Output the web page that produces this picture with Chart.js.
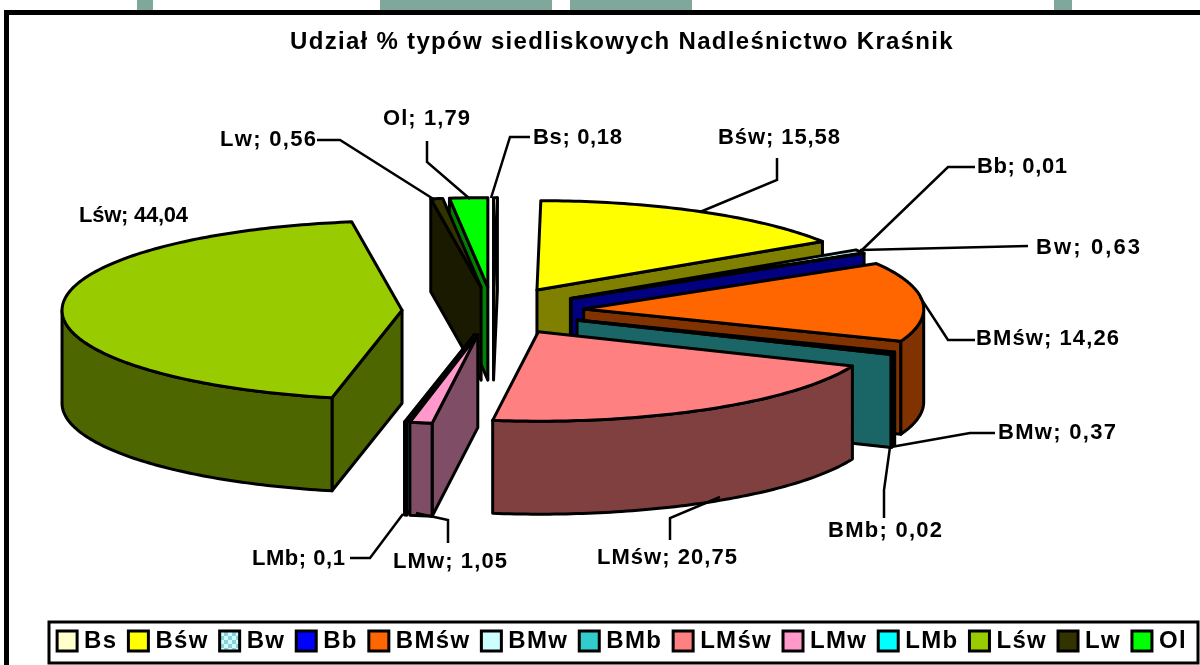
<!DOCTYPE html>
<html><head><meta charset="utf-8">
<style>html,body{margin:0;padding:0;background:#fff;overflow:hidden}canvas{display:block}</style>
<script src="https://cdn.jsdelivr.net/npm/chart.js@4"></script>
</head><body><canvas id="c" width="1200" height="665"></canvas>
<script>
const categories = ['Bs','Bśw','Bw','Bb','BMśw','BMw','BMb','LMśw','LMw','LMb','Lśw','Lw','Ol'];
const values = [0.18,15.58,0.63,0.01,14.26,0.37,0.02,20.75,1.05,0.1,44.04,0.56,1.79];
const topColors = ['#FFFFCC','#FFFF00','#CCFFFF','#0000FF','#FF6600','#CCFFFF','#33CCCC','#FF8080','#FF99CC','#00FFFF','#99CC00','#333300','#00FF00'];
const sideColors = ['#808066','#808000','#668080','#000080','#803300','#668080','#1A6666','#804040','#804D66','#008080','#4D6600','#1A1A00','#008000'];
const titleText = 'Udział % typów siedliskowych Nadleśnictwo Kraśnik';

// label: text left, middle y, text width; then the leader polyline
const callouts = {
  'Bs':[533,138,89,[[530,137],[510,137],[491,198]]],
  'Bśw':[718,138,122,[[777,158],[777,180],[700,212]]],
  'Bw':[1036,248,104,[[1028,246],[860,250]]],
  'Bb':[977,167,90,[[975,167],[948,167],[862,250]]],
  'BMśw':[976,339,143,[[975,340],[948,340],[920,297]]],
  'BMw':[998,433,118,[[995,433],[970,433],[891,447]]],
  'BMb':[828,531,114,[[884,518],[884,490],[890,447]]],
  'LMśw':[597,558,140,[[670,540],[670,518],[720,497]]],
  'LMw':[393,562,114,[[448,543],[448,520],[416,513]]],
  'LMb':[252,559,93,[[350,558],[370,558],[403,514]]],
  'Lśw':[79,216,109,[]],
  'Lw':[220,140,96,[[317,140],[340,140],[435,200]]],
  'Ol':[383,119,87,[[427,141],[427,162],[470,199]]]
};
const pieView = {cx:493, cy:311, radius:340, squash:0.263, explode:91, depth:93};

function checker(){
  const p=document.createElement('canvas');p.width=p.height=8;
  const g=p.getContext('2d');g.fillStyle='#CCFFFF';g.fillRect(0,0,8,8);
  g.fillStyle='#8FD0D8';g.fillRect(0,0,4,4);g.fillRect(4,4,4,4);
  return g.createPattern(p,'repeat');
}
const fills = topColors.slice(); fills[2]=checker();

const pie3d = {
  id:'pie3d',
  beforeUpdate(chart){ chart.ctx.letterSpacing='1.3px'; },
  beforeDraw(chart){
    const c=chart.ctx; c.save();
    c.fillStyle='#fff';c.fillRect(0,0,1200,665);
    c.fillStyle='#7FA79B';
    [[137,153],[380,552],[570,692],[1054,1072]].forEach(r=>c.fillRect(r[0],0,r[1]-r[0],11));
    c.fillStyle='#000';c.fillRect(4,10,1196,5);c.fillRect(4,10,5,655);
    c.restore();
    c.letterSpacing='1.3px';
  },
  beforeDatasetDraw(chart,args){
    const c=chart.ctx, v=pieView, k=v.squash, arcs=chart.getDatasetMeta(args.index).data;
    const items=arcs.map((el,i)=>{
      const mid=(el.startAngle+el.endAngle)/2;
      return {el,i,ox:v.cx+v.explode*Math.cos(mid),oy:v.cy+v.explode*k*Math.sin(mid)};
    }).sort((a,b)=>a.oy-b.oy);
    c.save();c.lineWidth=3;c.lineJoin='round';c.strokeStyle='#000';
    items.forEach(it=>{
      const {el,i,ox,oy}=it, R=el.outerRadius, s=el.startAngle, e=el.endAngle, d=v.depth;
      const pt=a=>[ox+R*Math.cos(a),oy+R*k*Math.sin(a)];
      const poly=(pts,fill)=>{c.beginPath();pts.forEach((p,n)=>n?c.lineTo(p[0],p[1]):c.moveTo(p[0],p[1]));c.closePath();if(fill){c.fillStyle=fill;c.fill();}c.stroke();};
      const side=sideColors[i];
      const face=a=>{const p=pt(a);poly([[ox,oy],p,[p[0],p[1]+d],[ox,oy+d]],side);};
      if(Math.cos(s)<0) face(s);
      if(Math.cos(e)>0) face(e);
      const a0=Math.max(s,0),a1=Math.min(e,Math.PI);
      if(a1>a0){
        const n=Math.max(2,Math.ceil((a1-a0)*60)),up=[],dn=[];
        for(let j=0;j<=n;j++){const p=pt(a0+(a1-a0)*j/n);up.push(p);dn.unshift([p[0],p[1]+d]);}
        poly(up.concat(dn),side);
      }
      // top face through the library's arc element
      c.save();c.translate(ox,oy);c.scale(1,k);c.translate(-el.x,-el.y);el.draw(c);c.restore();
      const n=Math.max(2,Math.ceil((e-s)*60)),top=[[ox,oy]];
      for(let j=0;j<=n;j++)top.push(pt(s+(e-s)*j/n));
      poly(top,null);
    });
    c.restore();
    return false;
  },
  afterDraw(chart){
    const c=chart.ctx; c.save();
    c.letterSpacing='0px';
    c.strokeStyle='#000';c.lineWidth=3;c.strokeRect(49,622,1149,41);
    // legend swatches sit on the positions the legend laid out
    chart.legend.legendHitBoxes.forEach((h,i)=>{
      const y=h.top+h.height/2-10;
      c.fillStyle=fills[i];c.fillRect(h.left,y,20,20);
      c.strokeRect(h.left,y,20,20);
    });
    c.lineWidth=2.5;c.lineJoin='miter';c.fillStyle='#000';
    c.font='bold 22px "Liberation Sans"';c.textBaseline='middle';c.textAlign='left';
    categories.forEach((name,i)=>{
      const [x,y,w,pts]=callouts[name];
      if(pts.length){c.beginPath();pts.forEach((p,n)=>n?c.lineTo(p[0],p[1]):c.moveTo(p[0],p[1]));c.stroke();}
      const t=name+'; '+String(values[i]).replace('.',',');
      c.letterSpacing='0px';
      const ls=(w-c.measureText(t).width)/(t.length-1);
      c.letterSpacing=ls.toFixed(2)+'px';
      c.fillText(t,x,y);
    });
    c.restore();
  }
};

new Chart(document.getElementById('c'),{
  type:'pie',
  data:{labels:categories,datasets:[{data:values,backgroundColor:fills,borderWidth:0,hoverOffset:0,offset:0}]},
  plugins:[pie3d],
  options:{
    responsive:false,animation:false,
    radius:pieView.radius,
    layout:{padding:{left:44,right:0,top:0,bottom:2}},
    plugins:{
      tooltip:{enabled:false},
      title:{display:true,text:titleText,color:'#000',font:{family:'"Liberation Sans"',size:24,weight:'bold'},padding:{top:28,bottom:10}},
      legend:{position:'bottom',onClick:null,
        labels:{color:'#000',boxWidth:15,boxHeight:18,padding:11,font:{family:'"Liberation Sans"',size:24,weight:'bold'},
          generateLabels(ch){return Chart.overrides.doughnut.plugins.legend.labels.generateLabels(ch).map(l=>Object.assign(l,{fillStyle:'rgba(0,0,0,0)',strokeStyle:'rgba(0,0,0,0)',lineWidth:0}));}}
      }
    }
  }
});
</script></body></html>
